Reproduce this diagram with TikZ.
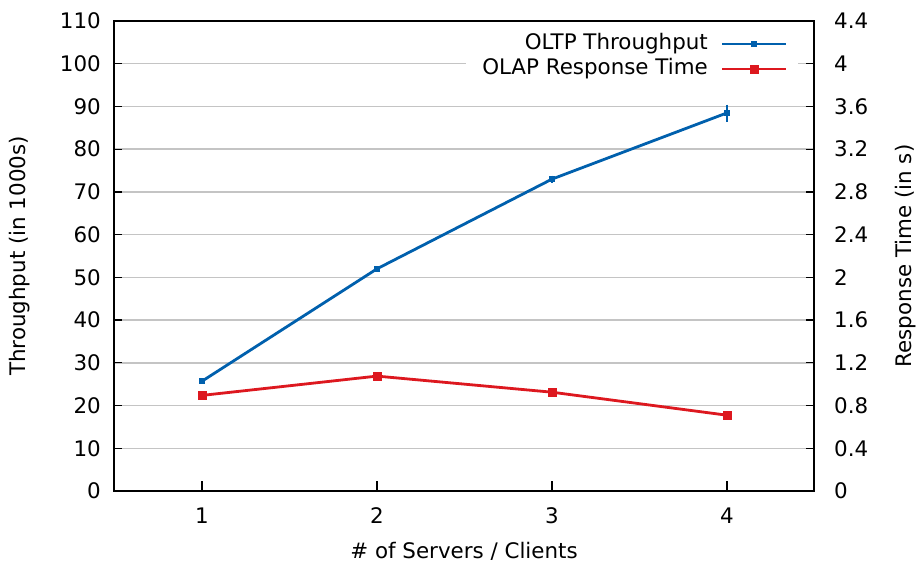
\documentclass[tikz,border=0pt]{standalone}
\usepackage{fontspec}
\setmainfont{DejaVu Sans}
\definecolor{oltpblue}{HTML}{0060AD}
\definecolor{olapred}{HTML}{DD181F}
\definecolor{gridgray}{HTML}{C4C4C4}
\begin{document}
\begin{tikzpicture}[x=1pt,y=-1pt,
  lbl/.style={font=\fontsize{21.4}{25}\selectfont, inner sep=0pt},
  gridline/.style={gridgray, line width=1.5pt},
  frame/.style={black, line width=1.4pt},
  tick/.style={black, line width=1.2pt},
  bline/.style={oltpblue, line width=2.8pt},
  rline/.style={olapred, line width=2.8pt},
  bmark/.style={fill=oltpblue, draw=none, minimum size=6pt, inner sep=0pt, rectangle},
  rmark/.style={fill=olapred, draw=none, minimum size=9pt, inner sep=0pt, rectangle},
  ebar/.style={oltpblue, line width=2.2pt}]
\useasboundingbox (0,0) rectangle (920,565);
\fill[white] (0,0) rectangle (920,565);

% horizontal grid (every 10 units of throughput)
\foreach \v in {10,20,...,100}
  \draw[gridline] (114,{491-4.2727*\v}) -- (814,{491-4.2727*\v});

% left axis ticks and labels
\foreach \v in {0,10,...,110} {
  \draw[tick] (114,{491-4.2727*\v}) -- (122,{491-4.2727*\v});
  \node[lbl, anchor=east] at (101,{491-4.2727*\v}) {\v};
}
% right axis ticks and labels
\foreach \v/\t in {0/0,10/0.4,20/0.8,30/1.2,40/1.6,50/2,60/2.4,70/2.8,80/3.2,90/3.6,100/4,110/4.4} {
  \draw[tick] (814,{491-4.2727*\v}) -- (806,{491-4.2727*\v});
  \node[lbl, anchor=west] at (834,{491-4.2727*\v}) {\t};
}
% bottom axis ticks and labels
\foreach \i in {1,2,3,4} {
  \draw[tick] ({27+175*\i},491) -- ({27+175*\i},481);
  \node[lbl] at ({27+175*\i},516) {\i};
}

% legend background
\fill[white] (466,30) rectangle (798,82);

% frame
\draw[frame] (114,21) rectangle (814,491);

% axis titles
\node[lbl] (xtitle) at (464,551) {\# of Servers / Clients};
\node[lbl, rotate=90] (ytitle) at (20,256) {Throughput (in 1000s)};
\node[lbl, rotate=90] (y2title) at (906,256) {Response Time (in s)};

% OLTP throughput
\coordinate (b1) at (202,381.2);
\coordinate (b2) at (377,268.8);
\coordinate (b3) at (552,179.1);
\coordinate (b4) at (727,112.9);
\draw[bline, line join=round] (b1) -- (b2) -- (b3) -- (b4);
\draw[ebar] (377,266.5) -- (377,271);
\draw[ebar] (552,175.5) -- (552,183);
\draw[ebar] (727,104.5) -- (727,121.5);
\foreach \p in {b1,b2,b3,b4} \node[bmark] at (\p) {};

% OLAP response time
\coordinate (r1) at (202,395.4);
\coordinate (r2) at (377,376.1);
\coordinate (r3) at (552,392.2);
\coordinate (r4) at (727,415.2);
\draw[rline, line join=round] (r1) -- (r2) -- (r3) -- (r4);
\foreach \p in {r1,r2,r3,r4} \node[rmark] at (\p) {};

% legend
\node[lbl, anchor=east] (k1) at (708,44) {OLTP Throughput};
\node[lbl, anchor=east] (k2) at (708,69) {OLAP Response Time};
\coordinate (k1a) at (722,44);
\coordinate (k1b) at (786,44);
\coordinate (k2a) at (722,69);
\coordinate (k2b) at (786,69);
\draw[bline] (k1a) -- (k1b);
\node[bmark] at (754,44) {};
\draw[rline] (k2a) -- (k2b);
\node[rmark] at (754,69) {};
\end{tikzpicture}
\end{document}
